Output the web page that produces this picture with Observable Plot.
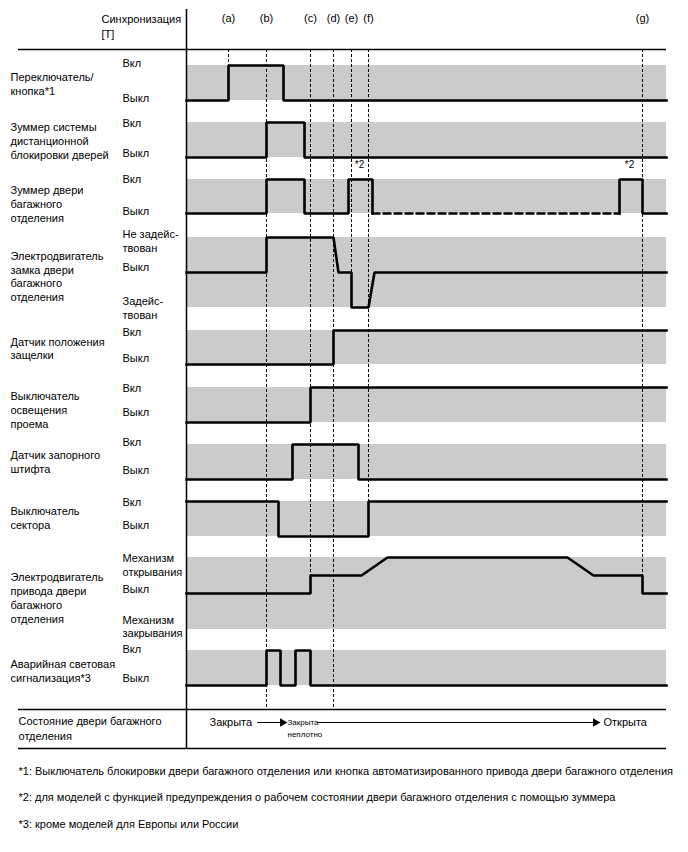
<!DOCTYPE html>
<html><head><meta charset="utf-8">
<script src="https://cdn.jsdelivr.net/npm/d3@7"></script>
<script src="https://cdn.jsdelivr.net/npm/@observablehq/plot@0.6"></script>
<style>
body{margin:0;background:#fff;}
#chart svg{display:block;}
</style>
</head><body><div id="chart"></div>
<script>
// ---------- data ----------
const eventNames = ["(a)", "(b)", "(c)", "(d)", "(e)", "(f)", "(g)"];
const eventTimes = [42, 80, 124, 147, 165, 182, 456];

const rowTitles = [
  "Переключатель/\nкнопка*1",
  "Зуммер системы\nдистанционной\nблокировки дверей",
  "Зуммер двери\nбагажного\nотделения",
  "Электродвигатель\nзамка двери\nбагажного\nотделения",
  "Датчик положения\nзащелки",
  "Выключатель\nосвещения\nпроема",
  "Датчик запорного\nштифта",
  "Выключатель\nсектора",
  "Электродвигатель\nпривода двери\nбагажного\nотделения",
  "Аварийная световая\nсигнализация*3"
];
const levelLabels = [
  ["Вкл", "Выкл"],
  ["Вкл", "Выкл"],
  ["Вкл", "Выкл"],
  ["Не задейс-\nтвован", "Выкл", "Задейс-\nтвован"],
  ["Вкл", "Выкл"],
  ["Вкл", "Выкл"],
  ["Вкл", "Выкл"],
  ["Вкл", "Выкл"],
  ["Механизм\nоткрывания", "Выкл", "Механизм\nзакрывания"],
  ["Вкл", "Выкл"]
];

// signal traces: [time, level]
const sigSwitch        = [[0,0],[42,0],[42,1],[97,1],[97,0],[480,0]];
const sigRemoteBuzzer  = [[0,0],[80,0],[80,1],[118,1],[118,0],[480,0]];
const sigTrunkBuzzerA  = [[0,0],[80,0],[80,1],[118,1],[118,0],[162,0],[162,1],[186,1],[186,0]];
const sigTrunkBuzzerW  = [[186,0],[433,0]];   // optional (dashed)
const sigTrunkBuzzerB  = [[433,0],[433,1],[456,1],[456,0],[480,0]];
const sigLockMotor     = [[0,0],[80,0],[80,1],[147,1],[152,0],[165,0],[165,-1],[182,-1],[188,0],[480,0]];
const sigLatchSensor   = [[0,0],[147,0],[147,1],[480,1]];
const sigCourtesySw    = [[0,0],[124,0],[124,1],[480,1]];
const sigPinSensor     = [[0,0],[106,0],[106,1],[172,1],[172,0],[480,0]];
const sigSectorSw      = [[0,1],[92,1],[92,0],[182,0],[182,1],[480,1]];
const sigDriveMotor    = [[0,0],[124,0],[124,0.5],[175,0.5],[201,1],[381,1],[407,0.5],[456,0.5],[456,0],[480,0]];
const sigHazard        = [[0,0],[80,0],[80,1],[94,1],[94,0],[109,0],[109,1],[124,1],[124,0],[480,0]];

const noteLabels = ["*2", "*2"];
const noteTimes = [173, 443];

const stateNames = ["Закрыта", "Закрыта\nнеплотно", "Открыта"];
const stateTimes = [23, 101, 417];
const stateArrows = [[71, 99], [131, 412]];

const footnotes = [
  "*1: Выключатель блокировки двери багажного отделения или кнопка автоматизированного привода двери багажного отделения",
  "*2: для моделей с функцией предупреждения о рабочем состоянии двери багажного отделения с помощью зуммера",
  "*3: кроме моделей для Европы или России"
];

// ---------- layout ----------
const layout = [
  {top:65,  bottom:100, vmin:0,  vmax:1, labelY:83,    levelY:[62,97]},
  {top:122, bottom:157, vmin:0,  vmax:1, labelY:140,   levelY:[122,152]},
  {top:179, bottom:213, vmin:0,  vmax:1, labelY:203,   levelY:[178,210]},
  {top:237, bottom:307, vmin:-1, vmax:1, labelY:275.5, levelY:[240,266,307]},
  {top:330, bottom:364, vmin:0,  vmax:1, labelY:347.5, levelY:[331,357]},
  {top:387, bottom:422, vmin:0,  vmax:1, labelY:409,   levelY:[387,411]},
  {top:444, bottom:479, vmin:0,  vmax:1, labelY:461,   levelY:[441,469]},
  {top:501, bottom:536, vmin:0,  vmax:1, labelY:517,   levelY:[501,524]},
  {top:557, bottom:629, vmin:-1, vmax:1, labelY:597,   levelY:[564,588,625.5]},
  {top:650, bottom:685, vmin:0,  vmax:1, labelY:670,   levelY:[648,677]}
];
const eventLineEnds = [100, 707, 593, 707, 306, 536, 593];
const footY = [771, 797, 824];

const toY = (r, v) => {
  const L = layout[r];
  return L.bottom - (v - L.vmin) / (L.vmax - L.vmin) * (L.bottom - L.top);
};

const traces = [
  {row:0, pts:sigSwitch}, {row:1, pts:sigRemoteBuzzer},
  {row:2, pts:sigTrunkBuzzerA}, {row:2, pts:sigTrunkBuzzerB},
  {row:3, pts:sigLockMotor}, {row:4, pts:sigLatchSensor},
  {row:5, pts:sigCourtesySw}, {row:6, pts:sigPinSensor},
  {row:7, pts:sigSectorSw}, {row:8, pts:sigDriveMotor},
  {row:9, pts:sigHazard}
];
const solid = traces.flatMap((tr, i) => tr.pts.map(([t, v]) => ({t, y: toY(tr.row, v), k: i})));
const dashed = sigTrunkBuzzerW.map(([t, v]) => ({t, y: toY(2, v)}));

const bands = layout.map((L) => ({y1: L.top, y2: L.bottom}));
const rowLabelData = rowTitles.map((s, i) => ({text: s, y: layout[i].labelY}));
const levelLabelData = levelLabels.flatMap((ls, i) => ls.map((s, j) => ({text: s, y: layout[i].levelY[j]})));
const events = eventNames.map((n, i) => ({name: n, t: eventTimes[i], end: eventLineEnds[i]}));
const notes = noteLabels.map((n, i) => ({name: n, t: noteTimes[i]}));
const arrowLines = stateArrows.flatMap(([a, b], i) => [{t:a, k:i}, {t:b, k:i}]);
const arrowHeads = stateArrows.map(([a, b]) => ({t: b}));

const font = '"Liberation Sans", Arial, sans-serif';

const chart = Plot.plot({
  width: 688, height: 852, margin: 0,
  x: {domain: [-186, 502], range: [0, 688], axis: null},
  y: {domain: [0, 852], range: [0, 852], axis: null},
  style: {fontFamily: font, fontSize: "11px", background: "#fff", color: "#000"},
  marks: [
    Plot.rect(bands, {x1: () => 0, x2: () => 480, y1: "y1", y2: "y2", fill: "#cbcbcb"}),
    Plot.ruleX(events, {x: "t", y1: () => 49, y2: "end", stroke: "#000", strokeWidth: 1, strokeDasharray: "3,2"}),
    Plot.ruleY([49, 709, 748], {insetLeft: 18, insetRight: 22, stroke: "#000", strokeWidth: 1.5}),
    Plot.ruleX([0], {y1: () => 9, y2: () => 748, stroke: "#000", strokeWidth: 1.5}),
    Plot.line(solid, {x: "t", y: "y", z: "k", stroke: "#000", strokeWidth: 2.6, strokeLinejoin: "miter", strokeLinecap: "square"}),
    Plot.line(dashed, {x: "t", y: "y", stroke: "#000", strokeWidth: 2.6, strokeDasharray: "7,4"}),
    // header
    Plot.text(["Синхронизация\n[T]"], {frameAnchor: "left", dx: 101, y: () => 25, text: d => d, textAnchor: "start", lineHeight: 1.35}),
    Plot.text(events, {x: "t", y: () => 18, text: "name"}),
    Plot.text(notes, {x: "t", y: () => 164, text: "name", fontSize: 10}),
    // left labels
    Plot.text(rowLabelData, {frameAnchor: "left", dx: 10, y: "y", text: "text", textAnchor: "start", lineHeight: 1.25}),
    Plot.text(levelLabelData, {frameAnchor: "left", dx: 122, y: "y", text: "text", textAnchor: "start", lineHeight: 1.25}),
    // state row
    Plot.text(["Состояние двери багажного\nотделения"], {frameAnchor: "left", dx: 18, y: () => 727, text: d => d, textAnchor: "start", lineHeight: 1.35}),
    Plot.text([stateNames[0], stateNames[2]], {x: (d, i) => [stateTimes[0], stateTimes[2]][i], y: () => 722, text: d => d, textAnchor: "start"}),
    Plot.text([stateNames[1]], {x: () => stateTimes[1], y: () => 726.5, text: d => d, textAnchor: "start", fontSize: 8, lineHeight: 1.5}),
    Plot.line(arrowLines, {x: "t", y: () => 722, z: "k", stroke: "#000", strokeWidth: 1}),
    Plot.dot(arrowHeads, {x: "t", y: () => 722, symbol: "triangle", rotate: 90, r: 3.2, fill: "#000", dx: -3}),
    // footnotes
    Plot.text(footnotes, {frameAnchor: "left", dx: 18, y: (d, i) => footY[i], text: d => d, textAnchor: "start", fontSize: 11})
  ]
});
document.getElementById("chart").appendChild(chart);
</script>
</body></html>
